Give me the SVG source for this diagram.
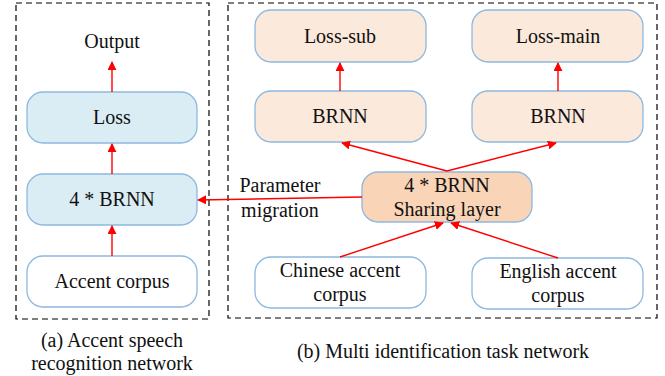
<svg xmlns="http://www.w3.org/2000/svg" width="665" height="376" viewBox="0 0 665 376" font-family="Liberation Serif, Times New Roman, serif">
  <style>
    .frame { fill: none; stroke: #000; stroke-width: 1.2; stroke-dasharray: 6 4; }
    .node { stroke: #8DB8E0; stroke-width: 1.3; }
    .blue { fill: #DAEDF4; }
    .peach { fill: #FBE9DB; }
    .share { fill: #F9D4B6; }
    .plain { fill: #FFFFFF; }
    text { font-family: 'Liberation Serif', 'Times New Roman', Times, serif; font-size: 20px; fill: #111; text-anchor: middle; }
    .edge { stroke: #FF0000; stroke-width: 1.4; fill: none; marker-end: url(#arrow); }
  </style>
  <defs>
    <marker id="arrow" viewBox="0 0 10 10" refX="9" refY="5" markerWidth="9" markerHeight="9" markerUnits="userSpaceOnUse" orient="auto">
      <path d="M0,0 L10,5 L0,10 Z" fill="#FF0000"/>
    </marker>
  </defs>

  <!-- panel frames -->
  <rect class="frame" x="16" y="3" width="193" height="316"/>
  <rect class="frame" x="228" y="3" width="429" height="315"/>

  <!-- panel (a) -->
  <g id="output"><text x="112" y="48">Output</text></g>
  <g id="loss"><rect class="node blue" x="27" y="92" width="170" height="51" rx="16"/><text x="112" y="124">Loss</text></g>
  <g id="brnn4-a"><rect class="node blue" x="27" y="174" width="170" height="51" rx="16"/><text x="112" y="206">4 * BRNN</text></g>
  <g id="accent-corpus"><rect class="node plain" x="27" y="256" width="170" height="51" rx="16"/><text x="112" y="288">Accent corpus</text></g>

  <!-- panel (b) -->
  <g id="loss-sub"><rect class="node peach" x="255" y="10" width="171" height="52" rx="16"/><text x="340" y="43">Loss-sub</text></g>
  <g id="loss-main"><rect class="node peach" x="472" y="10" width="171" height="52" rx="16"/><text x="558" y="43">Loss-main</text></g>
  <g id="brnn-left"><rect class="node peach" x="255" y="91" width="171" height="51" rx="16"/><text x="340" y="123">BRNN</text></g>
  <g id="brnn-right"><rect class="node peach" x="472" y="91" width="171" height="51" rx="16"/><text x="558" y="123">BRNN</text></g>
  <g id="sharing-layer"><rect class="node share" x="362" y="172" width="170" height="50" rx="16"/><text x="447" y="192">4 * BRNN</text><text x="447" y="216">Sharing layer</text></g>
  <g id="chinese-corpus"><rect class="node plain" x="255" y="257" width="171" height="51" rx="16"/><text x="340" y="277">Chinese accent</text><text x="340" y="301">corpus</text></g>
  <g id="english-corpus"><rect class="node plain" x="472" y="258" width="171" height="51" rx="16"/><text x="558" y="278">English accent</text><text x="558" y="302">corpus</text></g>

  <!-- connectors -->
  <g id="connectors">
    <line class="edge" x1="112" y1="92" x2="112" y2="62"/>
    <line class="edge" x1="112" y1="174" x2="112" y2="144"/>
    <line class="edge" x1="112" y1="256" x2="112" y2="226"/>
    <line class="edge" x1="340" y1="91" x2="340" y2="63"/>
    <line class="edge" x1="558" y1="91" x2="558" y2="63"/>
    <line class="edge" x1="447" y1="171" x2="342" y2="143"/>
    <line class="edge" x1="447" y1="171" x2="556" y2="143"/>
    <line class="edge" x1="340" y1="257" x2="443" y2="223"/>
    <line class="edge" x1="558" y1="258" x2="451" y2="223"/>
    <line class="edge" x1="362" y1="197" x2="198" y2="200"/>
  </g>
  <g id="migration-label">
    <text x="280" y="192">Parameter</text>
    <text x="280" y="217">migration</text>
  </g>

  <!-- captions -->
  <text x="112" y="347">(a) Accent speech</text>
  <text x="112" y="370">recognition network</text>
  <text x="443" y="358">(b) Multi identification task network</text>
</svg>
